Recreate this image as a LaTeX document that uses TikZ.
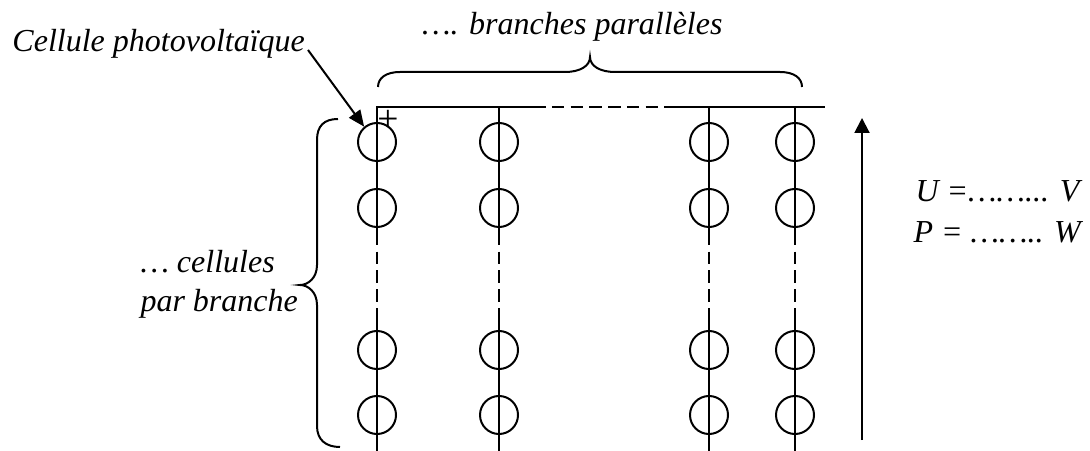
\documentclass[tikz,border=0pt]{standalone}
\usepackage{fontspec}
\setmainfont{Liberation Serif}
\usetikzlibrary{arrows.meta}
\begin{document}
\begin{tikzpicture}[x=0.4pt,y=-0.4pt,
  wire/.style={line width=0.8pt},
  dsh/.style={line width=0.8pt,dash pattern=on 5pt off 2.5pt},
  cell/.style={draw,circle,line width=0.8pt,minimum size=15.2pt,inner sep=0pt},
  lbl/.style={font=\fontsize{12.8}{15}\selectfont\itshape,inner sep=0pt},
  brace/.style={line width=0.8pt}]
\useasboundingbox (0,0) rectangle (1090,451);

% columns (branches)
\foreach \n/\x in {1/377,2/499,3/709,4/795} {
  \coordinate (t\n) at (\x,107);
  \coordinate (da\n) at (\x,233);
  \coordinate (db\n) at (\x,318);
  \coordinate (b\n) at (\x,451);
}
\coordinate (ta) at (533,107);
\coordinate (tb) at (665,107);
\coordinate (tr) at (825,107);

\draw[wire] (da1) -- (t1) -- (ta);
\draw[dsh] (ta) -- (tb);
\draw[wire] (tb) -- (tr);
\foreach \n in {2,3,4} { \draw[wire] (t\n) -- (da\n); }
\foreach \n in {1,2,3,4} {
  \draw[dsh] (da\n) -- (db\n);
  \draw[wire] (db\n) -- (b\n);
}

% cells
\foreach \n/\x in {1/377,2/499,3/709,4/795} {
  \foreach \r/\y in {1/142,2/208,3/350,4/415} {
    \node[cell] (c\n\r) at (\x,\y) {};
  }
}

% labels
\node[lbl,anchor=base west] (cp) at (12,52) {Cellule photovoltaïque};
\node[lbl,anchor=base east] (bp) at (723,35) {…. branches parallèles};
\node[lbl,anchor=base west] (cb1) at (140,273) {… cellules};
\node[lbl,anchor=base west] (cb2) at (140,312) {par branche};
\node[lbl,anchor=base west] (u) at (915,202) {U =……... V};
\node[lbl,anchor=base west] (p) at (913,243) {P = …….. W};
\node[font=\fontsize{15}{16}\selectfont,inner sep=0pt] (plus) at (388,121) {+};

% arrows
\coordinate (cpa) at (308,50);
\draw[wire,-{Triangle[length=6.5pt,width=5.5pt]}] (cpa) -- (c11.130);
\coordinate (ua) at (862,440);
\coordinate (ub) at (862,118);
\draw[wire,-{Triangle[length=6pt,width=6pt]}] (ua) -- (ub);

% braces
\draw[brace] (338,119) .. controls (324,119) and (317,126) .. (317,140)
  -- (317,265) .. controls (317,278) and (308,285) .. (300,285)
  .. controls (308,285) and (317,292) .. (317,305)
  -- (317,426) .. controls (317,440) and (326,447) .. (340,447);
\draw[brace] (378,87) .. controls (378,78) and (386,72) .. (400,72)
  -- (565,72) .. controls (580,72) and (590,66) .. (590,57)
  .. controls (590,66) and (600,72) .. (615,72)
  -- (780,72) .. controls (794,72) and (802,78) .. (802,87);
\end{tikzpicture}
\end{document}
